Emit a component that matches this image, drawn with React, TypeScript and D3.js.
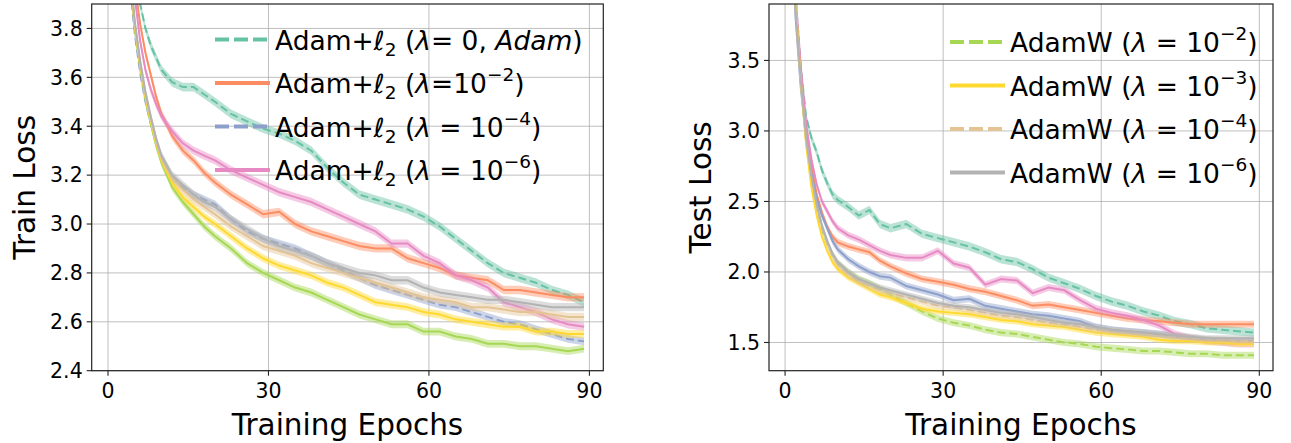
import React from 'react';
import * as d3 from 'd3';

const EPOCHS = [0, 1, 2, 3, 4, 5, 6, 7, 8, 9, 10, 12, 14, 16, 18, 20, 23, 26, 29, 32, 35, 38, 41, 44, 47, 50, 53, 56, 59, 62, 65, 68, 71, 74, 77, 80, 83, 86, 89];

// ---- train loss ----
const trainAdam0 = [6.9, 6.3, 5.5, 4.8, 4.3, 4.05, 3.9, 3.8, 3.73, 3.68, 3.63, 3.58, 3.56, 3.56, 3.53, 3.5, 3.45, 3.42, 3.39, 3.37, 3.34, 3.3, 3.23, 3.17, 3.12, 3.1, 3.08, 3.06, 3.03, 2.99, 2.94, 2.89, 2.84, 2.8, 2.78, 2.76, 2.73, 2.71, 2.68];
const trainAdamL2e2 = [6.9, 6.2, 5.3, 4.6, 4.2, 3.98, 3.82, 3.7, 3.61, 3.52, 3.45, 3.36, 3.3, 3.26, 3.21, 3.17, 3.12, 3.08, 3.04, 3.05, 3.0, 2.97, 2.95, 2.93, 2.91, 2.9, 2.9, 2.86, 2.84, 2.82, 2.79, 2.78, 2.77, 2.73, 2.73, 2.72, 2.71, 2.7, 2.7];
const trainAdamL2e4 = [6.9, 6.0, 5.1, 4.4, 4.0, 3.78, 3.62, 3.5, 3.41, 3.33, 3.27, 3.19, 3.15, 3.12, 3.1, 3.08, 3.02, 2.97, 2.94, 2.92, 2.9, 2.87, 2.84, 2.81, 2.78, 2.75, 2.73, 2.71, 2.69, 2.67, 2.66, 2.64, 2.62, 2.6, 2.59, 2.57, 2.55, 2.53, 2.52];
const trainAdamL2e6 = [6.9, 6.2, 5.3, 4.6, 4.15, 3.93, 3.75, 3.63, 3.55, 3.49, 3.44, 3.38, 3.33, 3.3, 3.28, 3.26, 3.22, 3.19, 3.16, 3.13, 3.11, 3.09, 3.06, 3.03, 3.0, 2.97, 2.92, 2.92, 2.87, 2.84, 2.79, 2.77, 2.74, 2.68, 2.66, 2.64, 2.61, 2.59, 2.58];
const trainAdamWe2 = [6.9, 6.1, 5.2, 4.5, 4.05, 3.8, 3.64, 3.51, 3.41, 3.32, 3.25, 3.15, 3.09, 3.04, 2.99, 2.95, 2.9, 2.84, 2.8, 2.77, 2.74, 2.72, 2.69, 2.66, 2.63, 2.61, 2.59, 2.59, 2.56, 2.56, 2.54, 2.53, 2.51, 2.51, 2.5, 2.5, 2.49, 2.48, 2.49];
const trainAdamWe3 = [6.9, 6.1, 5.2, 4.5, 4.06, 3.81, 3.65, 3.52, 3.42, 3.33, 3.26, 3.17, 3.11, 3.07, 3.03, 3.0, 2.95, 2.9, 2.86, 2.83, 2.81, 2.79, 2.76, 2.74, 2.71, 2.68, 2.67, 2.66, 2.64, 2.63, 2.61, 2.6, 2.59, 2.58, 2.58, 2.56, 2.56, 2.55, 2.55];
const trainAdamWe4 = [6.9, 6.1, 5.2, 4.5, 4.07, 3.82, 3.66, 3.53, 3.43, 3.34, 3.27, 3.19, 3.14, 3.1, 3.07, 3.04, 2.99, 2.95, 2.91, 2.89, 2.87, 2.84, 2.82, 2.8, 2.78, 2.76, 2.74, 2.72, 2.7, 2.69, 2.68, 2.66, 2.66, 2.65, 2.64, 2.64, 2.63, 2.62, 2.62];
const trainAdamWe6 = [6.9, 6.1, 5.2, 4.5, 4.07, 3.83, 3.67, 3.54, 3.44, 3.35, 3.28, 3.2, 3.16, 3.12, 3.09, 3.07, 3.02, 2.98, 2.94, 2.91, 2.89, 2.87, 2.84, 2.82, 2.8, 2.79, 2.77, 2.77, 2.74, 2.72, 2.71, 2.7, 2.69, 2.69, 2.68, 2.67, 2.66, 2.66, 2.66];

// ---- test loss ----
const testAdam0 = [6.9, 5.2, 3.95, 3.45, 3.1, 2.95, 2.85, 2.72, 2.63, 2.55, 2.51, 2.46, 2.4, 2.44, 2.34, 2.31, 2.34, 2.27, 2.24, 2.21, 2.18, 2.14, 2.09, 2.07, 2.02, 1.96, 1.92, 1.88, 1.83, 1.79, 1.76, 1.72, 1.69, 1.65, 1.63, 1.6, 1.59, 1.58, 1.57];
const testAdamL2e2 = [6.9, 5.1, 3.9, 3.4, 3.0, 2.75, 2.55, 2.42, 2.32, 2.25, 2.21, 2.18, 2.16, 2.14, 2.08, 2.04, 1.99, 1.95, 1.93, 1.91, 1.88, 1.86, 1.83, 1.8, 1.76, 1.77, 1.75, 1.73, 1.71, 1.69, 1.67, 1.66, 1.65, 1.64, 1.63, 1.63, 1.63, 1.63, 1.63];
const testAdamL2e4 = [6.9, 4.9, 3.8, 3.3, 2.95, 2.7, 2.52, 2.4, 2.31, 2.22, 2.16, 2.09, 2.04, 2.0, 1.97, 1.96, 1.9, 1.87, 1.84, 1.8, 1.81, 1.76, 1.74, 1.72, 1.7, 1.69, 1.67, 1.65, 1.61, 1.59, 1.58, 1.57, 1.56, 1.54, 1.53, 1.52, 1.51, 1.51, 1.51];
const testAdamL2e6 = [6.9, 5.2, 3.95, 3.45, 3.05, 2.8, 2.62, 2.5, 2.43, 2.36, 2.31, 2.26, 2.23, 2.19, 2.15, 2.12, 2.1, 2.1, 2.15, 2.06, 2.03, 1.91, 1.95, 1.94, 1.85, 1.89, 1.87, 1.8, 1.74, 1.71, 1.69, 1.66, 1.62, 1.56, 1.53, 1.51, 1.5, 1.49, 1.49];
const testAdamWe2 = [6.9, 5.1, 3.9, 3.35, 2.92, 2.65, 2.45, 2.3, 2.2, 2.12, 2.06, 2.0, 1.95, 1.92, 1.88, 1.84, 1.78, 1.72, 1.67, 1.64, 1.62, 1.59, 1.57, 1.56, 1.54, 1.52, 1.5, 1.49, 1.47, 1.46, 1.45, 1.44, 1.44, 1.43, 1.42, 1.42, 1.41, 1.41, 1.41];
const testAdamWe3 = [6.9, 5.1, 3.9, 3.35, 2.9, 2.6, 2.4, 2.25, 2.15, 2.07, 2.02, 1.96, 1.92, 1.88, 1.84, 1.82, 1.78, 1.74, 1.72, 1.71, 1.7, 1.68, 1.66, 1.65, 1.63, 1.62, 1.61, 1.59, 1.57, 1.56, 1.55, 1.54, 1.52, 1.51, 1.51, 1.5, 1.5, 1.49, 1.49];
const testAdamWe4 = [6.9, 5.0, 3.85, 3.33, 2.93, 2.66, 2.46, 2.31, 2.2, 2.11, 2.05, 1.98, 1.93, 1.9, 1.87, 1.85, 1.82, 1.79, 1.76, 1.75, 1.73, 1.71, 1.69, 1.68, 1.66, 1.64, 1.63, 1.61, 1.59, 1.58, 1.57, 1.56, 1.55, 1.54, 1.53, 1.52, 1.52, 1.51, 1.51];
const testAdamWe6 = [6.9, 5.0, 3.85, 3.35, 2.95, 2.68, 2.48, 2.33, 2.22, 2.13, 2.07, 2.0, 1.95, 1.92, 1.89, 1.87, 1.84, 1.81, 1.78, 1.76, 1.75, 1.73, 1.71, 1.7, 1.68, 1.66, 1.64, 1.63, 1.61, 1.59, 1.58, 1.57, 1.56, 1.55, 1.54, 1.53, 1.53, 1.53, 1.53];

// spread of the shaded band (std over runs)
const trainStd = [0.018, 0.017, 0.016, 0.017, 0.016, 0.016, 0.017, 0.017];
const testStd = [0.03, 0.025, 0.025, 0.025, 0.025, 0.022, 0.022, 0.022];

const SERIES_KEYS = ['adam0', 'l2e2', 'l2e4', 'l2e6', 'we2', 'we3', 'we4', 'we6'];
const COLORS = ['#66c2a5', '#fc8d62', '#8da0cb', '#e78ac3', '#a6d854', '#ffd92f', '#e5c494', '#b3b3b3'];

const trainSeries = [trainAdam0, trainAdamL2e2, trainAdamL2e4, trainAdamL2e6, trainAdamWe2, trainAdamWe3, trainAdamWe4, trainAdamWe6];
const testSeries = [testAdam0, testAdamL2e2, testAdamL2e4, testAdamL2e6, testAdamWe2, testAdamWe3, testAdamWe4, testAdamWe6];
const trainDashed = [true, false, true, false, false, false, false, false];
const testDashed = [true, false, false, false, true, false, true, false];

const X_TICKS = [0, 30, 60, 90];
const TRAIN_Y_TICKS = [2.4, 2.6, 2.8, 3.0, 3.2, 3.4, 3.6, 3.8];
const TEST_Y_TICKS = [1.5, 2.0, 2.5, 3.0, 3.5];

// legend labels: [text, kind] with kind '', 'i' italic, 'sub', 'sup'
const adamLegend = [
  [['Adam+', ''], ['ℓ', 'i'], ['2', 'sub'], [' (', ''], ['λ', 'i'], ['= 0, ', ''], ['Adam', 'i'], [')', '']],
  [['Adam+', ''], ['ℓ', 'i'], ['2', 'sub'], [' (', ''], ['λ', 'i'], ['=10', ''], ['−2', 'sup'], [')', '']],
  [['Adam+', ''], ['ℓ', 'i'], ['2', 'sub'], [' (', ''], ['λ', 'i'], [' = 10', ''], ['−4', 'sup'], [')', '']],
  [['Adam+', ''], ['ℓ', 'i'], ['2', 'sub'], [' (', ''], ['λ', 'i'], [' = 10', ''], ['−6', 'sup'], [')', '']],
];
const adamWLegend = [
  [['AdamW (', ''], ['λ', 'i'], [' = 10', ''], ['−2', 'sup'], [')', '']],
  [['AdamW (', ''], ['λ', 'i'], [' = 10', ''], ['−3', 'sup'], [')', '']],
  [['AdamW (', ''], ['λ', 'i'], [' = 10', ''], ['−4', 'sup'], [')', '']],
  [['AdamW (', ''], ['λ', 'i'], [' = 10', ''], ['−6', 'sup'], [')', '']],
];

const W = 1291, H = 443;
const FONT = 'DejaVu Sans, sans-serif';
const X_DOMAIN = [-3.05, 92.6];
const TICK_FS = 20.5, LABEL_FS = 29.5, LEGEND_FS = 26.5;

function Label({ parts, x, y }) {
  let cur = 0;
  return (
    <text x={x} y={y} fontSize={LEGEND_FS} fontFamily={FONT} fill="#000">
      {parts.map(([t, k], i) => {
        const shift = k === 'sub' ? 6 : k === 'sup' ? -12 : 0;
        const dy = shift - cur;
        cur = shift;
        return (
          <tspan key={i} dy={dy} fontStyle={k === 'i' ? 'italic' : 'normal'}
            fontSize={k === 'sub' || k === 'sup' ? 18.5 : LEGEND_FS}>{t}</tspan>
        );
      })}
    </text>
  );
}

function Panel({ id, left, right, yDomain, yTicks, series, dashed, std, yLabel, yLabelX, legend, legendIdx, legendX, legendY }) {
  const top = 4, bottom = 370.7;
  const x = d3.scaleLinear().domain(X_DOMAIN).range([left, right]);
  const y = d3.scaleLinear().domain(yDomain).range([bottom, top]);
  const line = d3.line().x((d) => x(d[0])).y((d) => y(d[1]));
  const area = d3.area().x((d) => x(d[0])).y0((d) => y(d[1] - d[2])).y1((d) => y(d[1] + d[2]));
  const fmt = d3.format('.1f');

  return (
    <g>
      <defs>
        <clipPath id={`clip-${id}`}>
          <rect x={left} y={top} width={right - left} height={bottom - top} />
        </clipPath>
      </defs>
      {/* grid */}
      {X_TICKS.map((t) => (
        <line key={`gx${t}`} x1={x(t)} x2={x(t)} y1={top} y2={bottom} stroke="#b0b0b0" strokeOpacity={0.8} strokeWidth={1} />
      ))}
      {yTicks.map((t) => (
        <line key={`gy${t}`} x1={left} x2={right} y1={y(t)} y2={y(t)} stroke="#b0b0b0" strokeOpacity={0.8} strokeWidth={1} />
      ))}
      {/* bands + lines */}
      <g clipPath={`url(#clip-${id})`}>
        {series.map((vals, i) => {
          const pts = EPOCHS.map((e, j) => [e, vals[j], std[i]]);
          return (
            <g key={SERIES_KEYS[i]}>
              <path d={area(pts)} fill={COLORS[i]} fillOpacity={0.45} stroke="none" />
              <path d={line(pts)} fill="none" stroke={COLORS[i]} strokeWidth={2}
                strokeDasharray={dashed[i] ? '8,4' : null} />
            </g>
          );
        })}
      </g>
      {/* spines */}
      <rect x={left} y={top} width={right - left} height={bottom - top} fill="none" stroke="#222" strokeWidth={1.2} />
      {/* x ticks */}
      {X_TICKS.map((t) => (
        <g key={`xt${t}`}>
          <line x1={x(t)} x2={x(t)} y1={bottom} y2={bottom + 5} stroke="#222" strokeWidth={1.1} />
          <text x={x(t)} y={397.5} textAnchor="middle" fontSize={TICK_FS} fontFamily={FONT}>{t}</text>
        </g>
      ))}
      {/* y ticks */}
      {yTicks.map((t) => (
        <g key={`yt${t}`}>
          <line x1={left - 5} x2={left} y1={y(t)} y2={y(t)} stroke="#222" strokeWidth={1.1} />
          <text x={left - 9} y={y(t) + 7.3} textAnchor="end" fontSize={TICK_FS} fontFamily={FONT}>{fmt(t)}</text>
        </g>
      ))}
      <text x={(left + right) / 2} y={435} textAnchor="middle" fontSize={LABEL_FS} fontFamily={FONT}>Training Epochs</text>
      <text transform={`translate(${yLabelX},${(top + bottom) / 2}) rotate(-90)`} textAnchor="middle" fontSize={LABEL_FS} fontFamily={FONT}>{yLabel}</text>
      {/* legend */}
      {legend.map((parts, r) => {
        const i = legendIdx[r];
        const cy = legendY + r * 43.5;
        return (
          <g key={`lg${r}`}>
            <line x1={legendX} x2={legendX + 55} y1={cy} y2={cy} stroke={COLORS[i]} strokeWidth={4}
              strokeDasharray={dashed[i] ? '14,5' : null} />
            <Label parts={parts} x={legendX + 60} y={cy + 10} />
          </g>
        );
      })}
    </g>
  );
}

export default function App() {
  return (
    <svg width={W} height={H} style={{ position: 'absolute', left: 0, top: 0, background: '#fff' }}>
      <Panel id="train" left={91.7} right={603.3} yDomain={[2.4, 3.9]} yTicks={TRAIN_Y_TICKS}
        series={trainSeries} dashed={trainDashed} std={trainStd} yLabel="Train Loss" yLabelX={35}
        legend={adamLegend} legendIdx={[0, 1, 2, 3]} legendX={215} legendY={39.5} />
      <Panel id="test" left={769} right={1273} yDomain={[1.3, 3.9]} yTicks={TEST_Y_TICKS}
        series={testSeries} dashed={testDashed} std={testStd} yLabel="Test Loss" yLabelX={711}
        legend={adamWLegend} legendIdx={[4, 5, 6, 7]} legendX={950} legendY={42} />
    </svg>
  );
}
